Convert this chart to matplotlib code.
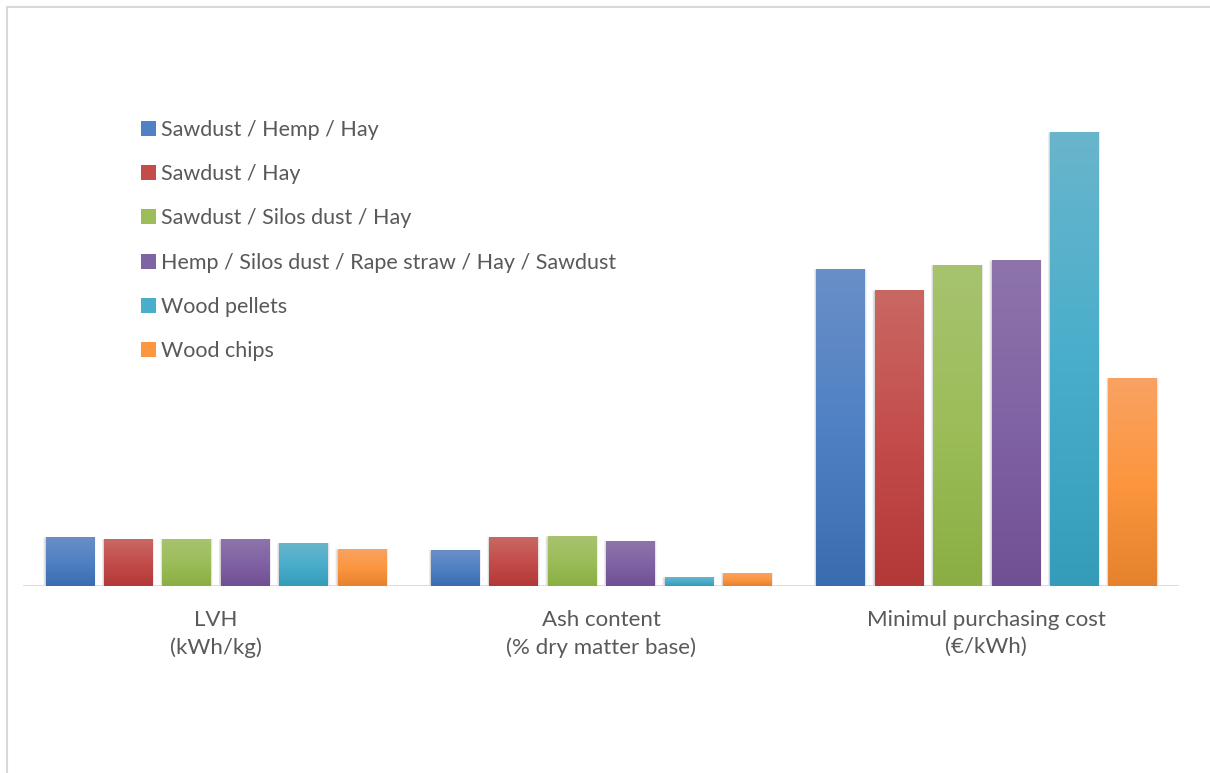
import numpy as np
import matplotlib.pyplot as plt
from matplotlib.patches import Rectangle
from matplotlib.colors import LinearSegmentedColormap

categories = ["LVH\n(kWh/kg)", "Ash content\n(% dry matter base)", "Minimul purchasing cost\n(€/kWh)"]
series = ["Sawdust / Hemp / Hay", "Sawdust / Hay", "Sawdust / Silos dust / Hay",
          "Hemp / Silos dust / Rape straw / Hay / Sawdust", "Wood pellets", "Wood chips"]

sawdust_hemp_hay = [4.9, 3.6, 31.7]
sawdust_hay = [4.7, 4.9, 29.6]
sawdust_silos_hay = [4.7, 5.0, 32.1]
hemp_mix = [4.7, 4.5, 32.6]
wood_pellets = [4.3, 0.9, 45.4]
wood_chips = [3.7, 1.3, 20.8]

values = [sawdust_hemp_hay, sawdust_hay, sawdust_silos_hay, hemp_mix, wood_pellets, wood_chips]

# top / middle / bottom stops for the gradient fill of each series
palette = [
    ("#6a8fc7", "#4f81c4", "#3a6cb0"),
    ("#c96863", "#c34d4b", "#b33838"),
    ("#a7c36f", "#9cbd59", "#8aae43"),
    ("#8e74ab", "#8063a4", "#714f93"),
    ("#69b5cc", "#49aecb", "#349cb9"),
    ("#f9a263", "#fc963f", "#e5822d"),
]

plt.rcParams['font.family'] = ['Lato', 'DejaVu Sans']
text_col = "#595959"

fig = plt.figure(figsize=(12.1, 7.73), dpi=100)
W, H = 1210, 773
ax = fig.add_axes([23 / W, (H - 586) / H, 1156 / W, 500 / H])

pitch = 0.1516
width = 0.1246
x = np.arange(len(categories))

grad = np.linspace(0, 1, 256).reshape(-1, 1)

for i, (vals, cols) in enumerate(zip(values, palette)):
    cmap = LinearSegmentedColormap.from_list("g%d" % i, [cols[2], cols[1], cols[0]])
    xs = x + (i - 2.5) * pitch
    bars = ax.bar(xs, vals, width=width, color="none", edgecolor="none", zorder=3)
    for b in bars:
        x0, y0 = b.get_x(), b.get_y()
        w, h = b.get_width(), b.get_height()
        # soft drop shadow
        for k in range(5):
            dx = 0.0012 * (k + 1)
            dy = 0.11 * (k + 1)
            sh = Rectangle((x0 - dx, y0 - 0.25 - dy * 0.5), w + 2 * dx, h + dy,
                           facecolor="black", edgecolor="none", alpha=0.035, zorder=1)
            ax.add_patch(sh)
        im = ax.imshow(grad, cmap=cmap, extent=(x0, x0 + w, y0, y0 + h),
                       origin="lower", aspect="auto", zorder=3)
        im.set_clip_path(b)

ax.set_xlim(-0.5, 2.5)
ax.set_ylim(0, 50)
ax.axhline(0, color="#d9d9d9", lw=2, zorder=2)

for s in ax.spines.values():
    s.set_visible(False)
ax.set_yticks([])
ax.set_xticks(x)
ax.set_xticklabels(categories, color=text_col, fontsize=16, linespacing=1.45)
ax.tick_params(axis="x", length=0, pad=17)

handles = [Rectangle((0, 0), 1, 1, facecolor=c[1], edgecolor="none") for c in palette]
leg = fig.legend(handles, series, loc="upper left", bbox_to_anchor=(130 / W, 1 - 109 / H),
                 frameon=False, fontsize=15.5, labelcolor=text_col,
                 handlelength=0.7, handleheight=0.7, handletextpad=0.25,
                 labelspacing=1.13, borderpad=0)

# outer frame
fig.add_artist(plt.Line2D([7 / W, 7 / W], [0, 1 - 7 / H], transform=fig.transFigure,
                          color="#d9d9d9", lw=1.5))
fig.add_artist(plt.Line2D([7 / W, 1], [1 - 7 / H, 1 - 7 / H], transform=fig.transFigure,
                          color="#d9d9d9", lw=1.5))

fig.savefig("out.png", dpi=100)
